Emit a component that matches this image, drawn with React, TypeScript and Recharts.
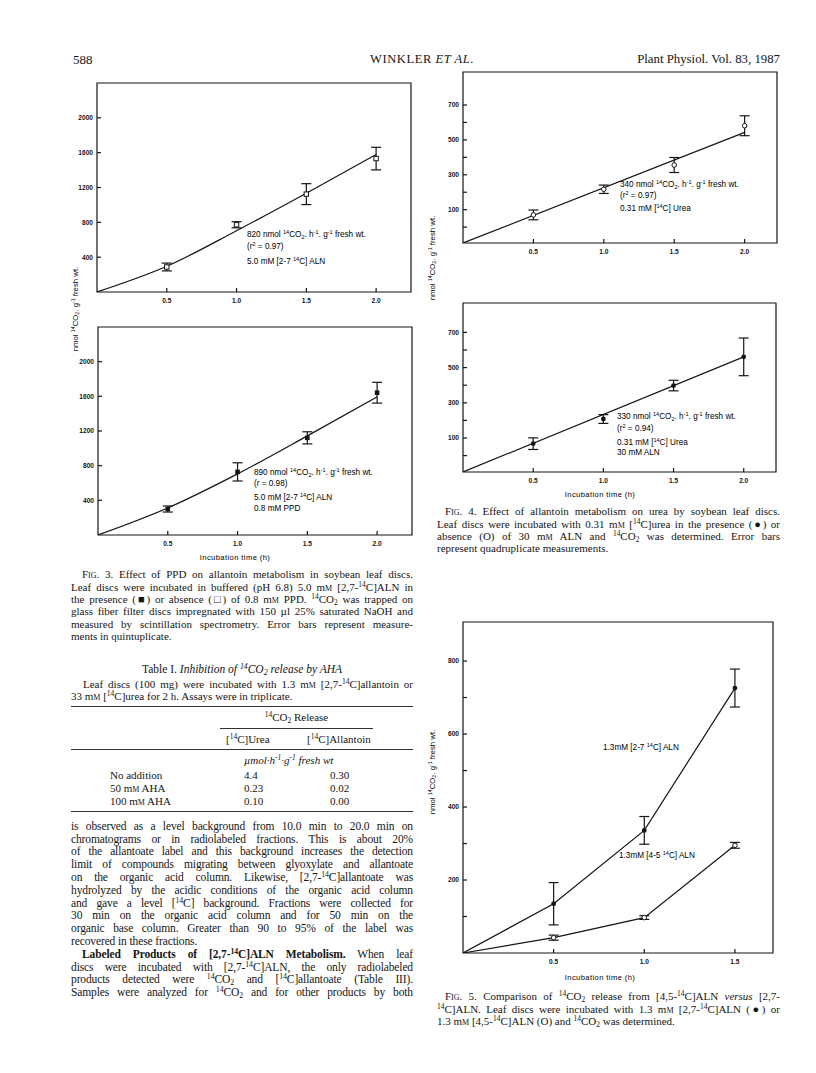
import React from "react";
import { ComposedChart, Line, Scatter, XAxis, YAxis, ErrorBar, ReferenceArea } from "recharts";

// Fig. 3 — 14CO2 from [2,7-14C]ALN, without (a) and with (b) PPD
const fig3FitTimes = [0, 0.5, 1.0, 1.5, 2.0];
const fig3PointTimes = [0.5, 1.0, 1.5, 2.0];
const fig3aFit = [0, 295, 704, 1135, 1578];
const fig3aMeans = [287, 772, 1124, 1532];
const fig3aErr = [45, 35, 120, 130];
const fig3bFit = [0, 312, 705, 1144, 1595];
const fig3bMeans = [300, 728, 1121, 1642];
const fig3bErr = [35, 105, 70, 120];
const fig3YTicks = [400, 800, 1200, 1600, 2000];
const fig3XTicks = [0.5, 1.0, 1.5, 2.0];

// Fig. 4 — [14C]urea, without (a) and with (b) 30 mM ALN
const fig4FitTimes = [0, 2.0];
const fig4PointTimes = [0.5, 1.0, 1.5, 2.0];
const fig4aFit = [-91, 543];
const fig4aMeans = [70, 217, 356, 581];
const fig4aErr = [28, 24, 43, 57];
const fig4bFit = [-93, 561];
const fig4bMeans = [68, 208, 398, 561];
const fig4bErr = [33, 25, 30, 107];
const fig4YTicks = [0, 100, 200, 300, 400, 500, 600, 700];
const fig4YLabelled = [100, 300, 500, 700];
const fig4XTicks = [0.5, 1.0, 1.5, 2.0];

// Fig. 5 — [2,7-14C]ALN (filled) vs [4,5-14C]ALN (open)
const fig5Times = [0, 0.5, 1.0, 1.5];
const fig5Filled = [0, 135, 336, 726];
const fig5FilledErr = [0, 58, 38, 52];
const fig5Open = [0, 42, 97, 295];
const fig5OpenErr = [0, 7, 5, 8];
const fig5YTicks = [100, 200, 300, 400, 500, 600, 700, 800];
const fig5YLabelled = [200, 400, 600, 800];
const fig5XTicks = [0.5, 1.0, 1.5];

const serif = '"Liberation Serif", "Times New Roman", serif';
const sans = '"Liberation Sans", Arial, sans-serif';
const INK = "#151515";

const ML = 34;
const MR = 4;
const MT = 4;
const MB = 24;

const pairs = (xs: number[], ys: number[]) => xs.map((x, i) => ({ x, y: ys[i] }));
const pointRows = (xs: number[], ys: number[], es: number[]) =>
  xs.map((x, i) => ({ x, y: ys[i], err: es[i] }));

const markShape = (kind: string) => (p: any) => {
  const { cx, cy } = p;
  if (cx == null || cy == null) return <g />;
  if (kind === "sqOpen")
    return <rect x={cx - 2.2} y={cy - 2.2} width={4.4} height={4.4} fill="#fff" stroke={INK} strokeWidth={1} />;
  if (kind === "sqFill")
    return <rect x={cx - 2.3} y={cy - 2.3} width={4.6} height={4.6} fill={INK} />;
  if (kind === "ciOpen") return <circle cx={cx} cy={cy} r={2.3} fill="#fff" stroke={INK} strokeWidth={1} />;
  return <circle cx={cx} cy={cy} r={2.4} fill={INK} />;
};

type Series = {
  fit: { x: number; y: number }[];
  pts: { x: number; y: number; err: number }[];
  kind: string;
  curve: "monotone" | "linear";
};

type PlotProps = {
  box: { x: number; y: number; w: number; h: number };
  xMax: number;
  yMin: number;
  yMax: number;
  xTicks: number[];
  yTicks: number[];
  yLabelled: number[];
  series: Series[];
};

function Plot({ box, xMax, yMin, yMax, xTicks, yTicks, yLabelled, series }: PlotProps) {
  const bottom = MT + box.h;
  const YTick = (p: any) => (
    <g>
      <line x1={ML} x2={ML + 4} y1={p.y} y2={p.y} stroke={INK} strokeWidth={1.2} />
      {yLabelled.includes(p.payload.value) && (
        <text x={ML - 4} y={p.y + 2.4} textAnchor="end" fontSize={6.6} fontWeight={700} fontFamily={sans} fill={INK}>
          {p.payload.value}
        </text>
      )}
    </g>
  );
  const XTick = (p: any) => (
    <g>
      <line x1={p.x} x2={p.x} y1={bottom} y2={bottom - 4} stroke={INK} strokeWidth={1.2} />
      <text x={p.x} y={bottom + 11} textAnchor="middle" fontSize={6.6} fontWeight={700} fontFamily={sans} fill={INK}>
        {p.payload.value.toFixed(1)}
      </text>
    </g>
  );
  return (
    <div style={{ position: "absolute", left: box.x - ML, top: box.y - MT }}>
      <ComposedChart
        width={box.w + ML + MR}
        height={box.h + MT + MB}
        margin={{ top: MT, right: MR, bottom: 0, left: 0 }}
      >
        <XAxis
          dataKey="x"
          type="number"
          domain={[0, xMax]}
          ticks={xTicks}
          allowDataOverflow
          height={MB}
          axisLine={false}
          tickLine={false}
          tick={XTick}
          interval={0}
        />
        <YAxis
          dataKey="y"
          type="number"
          domain={[yMin, yMax]}
          ticks={yTicks}
          allowDataOverflow
          width={ML}
          axisLine={false}
          tickLine={false}
          tick={YTick}
          interval={0}
        />
        <ReferenceArea
          x1={0}
          x2={xMax}
          y1={yMin}
          y2={yMax}
          fill="none"
          stroke={INK}
          strokeWidth={1.2}
          ifOverflow="visible"
        />
        {series.map((s, i) => (
          <Line
            key={"l" + i}
            data={s.fit}
            dataKey="y"
            type={s.curve}
            stroke={INK}
            strokeWidth={1.2}
            dot={false}
            activeDot={false}
            isAnimationActive={false}
          />
        ))}
        {series.map((s, i) => (
          <Scatter key={"s" + i} data={s.pts} shape={markShape(s.kind)} isAnimationActive={false}>
            <ErrorBar dataKey="err" direction="y" width={5} stroke={INK} strokeWidth={1.2} />
          </Scatter>
        ))}
      </ComposedChart>
    </div>
  );
}

const Sup = ({ c }: { c: string }) => (
  <span style={{ fontSize: "0.68em", verticalAlign: "0.5em", lineHeight: 0 }}>{c}</span>
);
const Sub = ({ c }: { c: string }) => (
  <span style={{ fontSize: "0.68em", verticalAlign: "-0.3em", lineHeight: 0 }}>{c}</span>
);
const SC = ({ c }: { c: string }) => <span style={{ fontVariant: "small-caps" }}>{c}</span>;
const MM = () => (
  <>
    m<SC c="m" />
  </>
);
const CO2 = () => (
  <>
    <Sup c="14" />
    CO<Sub c="2" />
  </>
);

function TLine({ x, y, w, size = 11, just = true, children, style }: any) {
  return (
    <div
      style={{
        position: "absolute",
        left: x,
        top: y - size * 0.62,
        width: w,
        fontSize: size,
        lineHeight: `${size * 1.2}px`,
        fontFamily: serif,
        textAlign: just ? "justify" : "left",
        textAlignLast: just ? "justify" : "left",
        whiteSpace: "nowrap",
        color: INK,
        ...style,
      }}
    >
      {children}
    </div>
  );
}

// body paragraph line: slightly larger, tighter set
const BLine = (props: any) => <TLine size={11.5} {...props} style={{ letterSpacing: -0.12, ...(props.style || {}) }} />;

function Note({ x, y, size = 8.2, children }: any) {
  return (
    <div
      style={{
        position: "absolute",
        left: x,
        top: y - size * 0.62,
        fontSize: size,
        lineHeight: `${size * 1.2}px`,
        fontFamily: sans,
        whiteSpace: "nowrap",
        color: "#000",
      }}
    >
      {children}
    </div>
  );
}

function YLabel({ x, y }: { x: number; y: number }) {
  return (
    <div
      style={{
        position: "absolute",
        left: x,
        top: y,
        transform: "translate(-50%, -50%) rotate(-90deg)",
        fontSize: 7.8,
        fontFamily: sans,
        whiteSpace: "nowrap",
        color: "#000",
      }}
    >
      nmol <CO2 />. g<Sup c="-1" /> fresh wt.
    </div>
  );
}

function XLabel({ x, y }: { x: number; y: number }) {
  return (
    <div
      style={{
        position: "absolute",
        left: x,
        top: y,
        transform: "translate(-50%, -50%)",
        fontSize: 7.6,
        letterSpacing: 0.4,
        fontFamily: sans,
        whiteSpace: "nowrap",
        color: "#000",
      }}
    >
      Incubation time (h)
    </div>
  );
}

const Rule = ({ x, y, w, t = 1 }: any) => (
  <div style={{ position: "absolute", left: x, top: y, width: w, height: t, background: "#333" }} />
);

const LX = 71;
const LW = 342;
const RX = 437;
const RW = 343;

export default function App() {
  const body = 12.8;
  const bodyTop = 827;
  return (
    <div style={{ position: "absolute", left: 0, top: 0, width: 816, height: 1073, background: "#fff", overflow: "hidden" }}>
      {/* running head */}
      <TLine x={73} y={60} w={60} size={13} just={false}>588</TLine>
      <TLine x={370} y={60} w={140} size={12.5} just={false} style={{ letterSpacing: 0.6 }}>
        WINKLER <i>ET AL.</i>
      </TLine>
      <TLine x={560} y={60} w={220} size={12.8} just={false} style={{ textAlign: "right", textAlignLast: "right" }}>
        Plant Physiol. Vol. 83, 1987
      </TLine>

      {/* Fig. 3 */}
      <Plot
        box={{ x: 97, y: 83, w: 314, h: 209 }}
        xMax={2.25}
        yMin={0}
        yMax={2400}
        xTicks={fig3XTicks}
        yTicks={fig3YTicks}
        yLabelled={fig3YTicks}
        series={[
          { fit: pairs(fig3FitTimes, fig3aFit), pts: pointRows(fig3PointTimes, fig3aMeans, fig3aErr), kind: "sqOpen", curve: "monotone" },
        ]}
      />
      <Note x={247} y={235}>
        820 nmol <CO2 />. h<Sup c="-1" />. g<Sup c="-1" /> fresh wt.
      </Note>
      <Note x={247} y={247}>(r<Sup c="2" /> = 0.97)</Note>
      <Note x={247} y={262}>
        5.0 mM [2-7 <Sup c="14" />C] ALN
      </Note>

      <YLabel x={75} y={309} />

      <Plot
        box={{ x: 98, y: 327, w: 314, h: 208 }}
        xMax={2.25}
        yMin={0}
        yMax={2400}
        xTicks={fig3XTicks}
        yTicks={fig3YTicks}
        yLabelled={fig3YTicks}
        series={[
          { fit: pairs(fig3FitTimes, fig3bFit), pts: pointRows(fig3PointTimes, fig3bMeans, fig3bErr), kind: "sqFill", curve: "monotone" },
        ]}
      />
      <Note x={254} y={473}>
        890 nmol <CO2 />. h<Sup c="-1" />. g<Sup c="-1" /> fresh wt.
      </Note>
      <Note x={254} y={484.5}>(r = 0.98)</Note>
      <Note x={254} y={498}>
        5.0 mM [2-7 <Sup c="14" />C] ALN
      </Note>
      <Note x={254} y={509}>0.8 mM PPD</Note>
      <XLabel x={235} y={557} />

      <TLine x={LX + 11} y={575} w={LW - 11}>
        <SC c="Fig." /> 3. Effect of PPD on allantoin metabolism in soybean leaf discs.
      </TLine>
      <TLine x={LX} y={587.4} w={LW}>
        Leaf discs were incubated in buffered (pH 6.8) 5.0 <MM /> [2,7-<Sup c="14" />C]ALN in
      </TLine>
      <TLine x={LX} y={599.8} w={LW}>
        the presence (■) or absence (□) of 0.8 <MM /> PPD. <CO2 /> was trapped on
      </TLine>
      <TLine x={LX} y={612.2} w={LW}>
        glass fiber filter discs impregnated with 150 µl 25% saturated NaOH and
      </TLine>
      <TLine x={LX} y={624.6} w={LW}>
        measured by scintillation spectrometry. Error bars represent measure-
      </TLine>
      <TLine x={LX} y={637} w={LW} just={false}>
        ments in quintuplicate.
      </TLine>

      {/* Table I */}
      <TLine x={LX} y={670} w={LW} size={11.5} just={false} style={{ textAlign: "center", textAlignLast: "center" }}>
        Table I. <i>Inhibition of <CO2 /> release by AHA</i>
      </TLine>
      <TLine x={LX + 12} y={685} w={LW - 12}>
        Leaf discs (100 mg) were incubated with 1.3 <MM /> [2,7-<Sup c="14" />C]allantoin or
      </TLine>
      <TLine x={LX} y={697} w={LW} just={false}>
        33 <MM /> [<Sup c="14" />C]urea for 2 h. Assays were in triplicate.
      </TLine>
      <Rule x={LX} y={706} w={LW} t={1.2} />
      <TLine x={220} y={718} w={153} just={false} style={{ textAlign: "center", textAlignLast: "center" }}>
        <CO2 /> Release
      </TLine>
      <Rule x={220} y={728} w={153} t={0.8} />
      <TLine x={226} y={740} w={80} just={false}>
        [<Sup c="14" />C]Urea
      </TLine>
      <TLine x={307} y={740} w={90} just={false}>
        [<Sup c="14" />C]Allantoin
      </TLine>
      <Rule x={LX} y={749} w={LW} t={0.8} />
      <TLine x={244} y={761} w={140} just={false}>
        <i>
          µmol·h<Sup c="-1" />·g<Sup c="-1" /> fresh wt
        </i>
      </TLine>
      <TLine x={110} y={776} w={100} just={false}>No addition</TLine>
      <TLine x={244} y={776} w={40} just={false}>4.4</TLine>
      <TLine x={330} y={776} w={40} just={false}>0.30</TLine>
      <TLine x={110} y={789} w={100} just={false}>
        50 <MM /> AHA
      </TLine>
      <TLine x={244} y={789} w={40} just={false}>0.23</TLine>
      <TLine x={330} y={789} w={40} just={false}>0.02</TLine>
      <TLine x={110} y={802} w={100} just={false}>
        100 <MM /> AHA
      </TLine>
      <TLine x={244} y={802} w={40} just={false}>0.10</TLine>
      <TLine x={330} y={802} w={40} just={false}>0.00</TLine>
      <Rule x={LX} y={811} w={LW} t={1.2} />

      {/* body text */}
      <BLine x={LX} y={bodyTop} w={LW}>is observed as a level background from 10.0 min to 20.0 min on</BLine>
      <BLine x={LX} y={bodyTop + body} w={LW}>chromatograms or in radiolabeled fractions. This is about 20%</BLine>
      <BLine x={LX} y={bodyTop + body * 2} w={LW}>of the allantoate label and this background increases the detection</BLine>
      <BLine x={LX} y={bodyTop + body * 3} w={LW}>limit of compounds migrating between glyoxylate and allantoate</BLine>
      <BLine x={LX} y={bodyTop + body * 4} w={LW}>
        on the organic acid column. Likewise, [2,7-<Sup c="14" />C]allantoate was
      </BLine>
      <BLine x={LX} y={bodyTop + body * 5} w={LW}>hydrolyzed by the acidic conditions of the organic acid column</BLine>
      <BLine x={LX} y={bodyTop + body * 6} w={LW}>
        and gave a level [<Sup c="14" />C] background. Fractions were collected for
      </BLine>
      <BLine x={LX} y={bodyTop + body * 7} w={LW}>30 min on the organic acid column and for 50 min on the</BLine>
      <BLine x={LX} y={bodyTop + body * 8} w={LW}>organic base column. Greater than 90 to 95% of the label was</BLine>
      <BLine x={LX} y={bodyTop + body * 9} w={LW} just={false}>recovered in these fractions.</BLine>
      <BLine x={LX + 11} y={bodyTop + body * 10} w={LW - 11}>
        <b>
          Labeled Products of [2,7-<Sup c="14" />C]ALN Metabolism.
        </b>{" "}
        When leaf
      </BLine>
      <BLine x={LX} y={bodyTop + body * 11} w={LW}>
        discs were incubated with [2,7-<Sup c="14" />C]ALN, the only radiolabeled
      </BLine>
      <BLine x={LX} y={bodyTop + body * 12} w={LW}>
        products detected were <CO2 /> and [<Sup c="14" />C]allantoate (Table III).
      </BLine>
      <BLine x={LX} y={bodyTop + body * 13} w={LW}>
        Samples were analyzed for <CO2 /> and for other products by both
      </BLine>

      {/* Fig. 4 */}
      <Plot
        box={{ x: 463, y: 72, w: 314, h: 171 }}
        xMax={2.23}
        yMin={-91}
        yMax={889}
        xTicks={fig4XTicks}
        yTicks={fig4YTicks}
        yLabelled={fig4YLabelled}
        series={[
          { fit: pairs(fig4FitTimes, fig4aFit), pts: pointRows(fig4PointTimes, fig4aMeans, fig4aErr), kind: "ciOpen", curve: "linear" },
        ]}
      />
      <Note x={620} y={185}>
        340 nmol <CO2 />. h<Sup c="-1" />. g<Sup c="-1" /> fresh wt.
      </Note>
      <Note x={620} y={196.5}>(r<Sup c="2" /> = 0.97)</Note>
      <Note x={620} y={209}>
        0.31 mM [<Sup c="14" />C] Urea
      </Note>

      <YLabel x={432} y={258} />

      <Plot
        box={{ x: 463, y: 303, w: 313, h: 169 }}
        xMax={2.23}
        yMin={-93}
        yMax={867}
        xTicks={fig4XTicks}
        yTicks={fig4YTicks}
        yLabelled={fig4YLabelled}
        series={[
          { fit: pairs(fig4FitTimes, fig4bFit), pts: pointRows(fig4PointTimes, fig4bMeans, fig4bErr), kind: "ciFill", curve: "linear" },
        ]}
      />
      <Note x={617} y={417}>
        330 nmol <CO2 />. h<Sup c="-1" />. g<Sup c="-1" /> fresh wt.
      </Note>
      <Note x={617} y={429}>(r<Sup c="2" /> = 0.94)</Note>
      <Note x={617} y={443}>
        0.31 mM [<Sup c="14" />C] Urea
      </Note>
      <Note x={617} y={453.5}>30 mM ALN</Note>
      <XLabel x={600} y={494} />

      <TLine x={RX + 8} y={512} w={RW - 8}>
        <SC c="Fig." /> 4. Effect of allantoin metabolism on urea by soybean leaf discs.
      </TLine>
      <TLine x={RX} y={524.4} w={RW}>
        Leaf discs were incubated with 0.31 <MM /> [<Sup c="14" />C]urea in the presence (●) or
      </TLine>
      <TLine x={RX} y={536.8} w={RW}>
        absence (O) of 30 <MM /> ALN and <CO2 /> was determined. Error bars
      </TLine>
      <TLine x={RX} y={549.2} w={RW} just={false}>
        represent quadruplicate measurements.
      </TLine>

      {/* Fig. 5 */}
      <Plot
        box={{ x: 463, y: 622, w: 310, h: 331 }}
        xMax={1.71}
        yMin={0}
        yMax={907}
        xTicks={fig5XTicks}
        yTicks={fig5YTicks}
        yLabelled={fig5YLabelled}
        series={[
          {
            fit: pairs(fig5Times, fig5Filled),
            pts: pointRows(fig5Times.slice(1), fig5Filled.slice(1), fig5FilledErr.slice(1)),
            kind: "ciFill",
            curve: "linear",
          },
          {
            fit: pairs(fig5Times, fig5Open),
            pts: pointRows(fig5Times.slice(1), fig5Open.slice(1), fig5OpenErr.slice(1)),
            kind: "ciOpen",
            curve: "linear",
          },
        ]}
      />
      <Note x={603} y={748}>
        1.3mM [2-7 <Sup c="14" />C] ALN
      </Note>
      <Note x={619} y={856}>
        1.3mM [4-5 <Sup c="14" />C] ALN
      </Note>
      <YLabel x={432} y={772} />
      <XLabel x={600} y={977} />

      <TLine x={RX + 8} y={997} w={RW - 8}>
        <SC c="Fig." /> 5. Comparison of <CO2 /> release from [4,5-<Sup c="14" />C]ALN <i>versus</i> [2,7-
      </TLine>
      <TLine x={RX} y={1009.4} w={RW}>
        <Sup c="14" />C]ALN. Leaf discs were incubated with 1.3 <MM /> [2,7-<Sup c="14" />C]ALN (●) or
      </TLine>
      <TLine x={RX} y={1021.8} w={RW} just={false}>
        1.3 <MM /> [4,5-<Sup c="14" />C]ALN (O) and <CO2 /> was determined.
      </TLine>
    </div>
  );
}
